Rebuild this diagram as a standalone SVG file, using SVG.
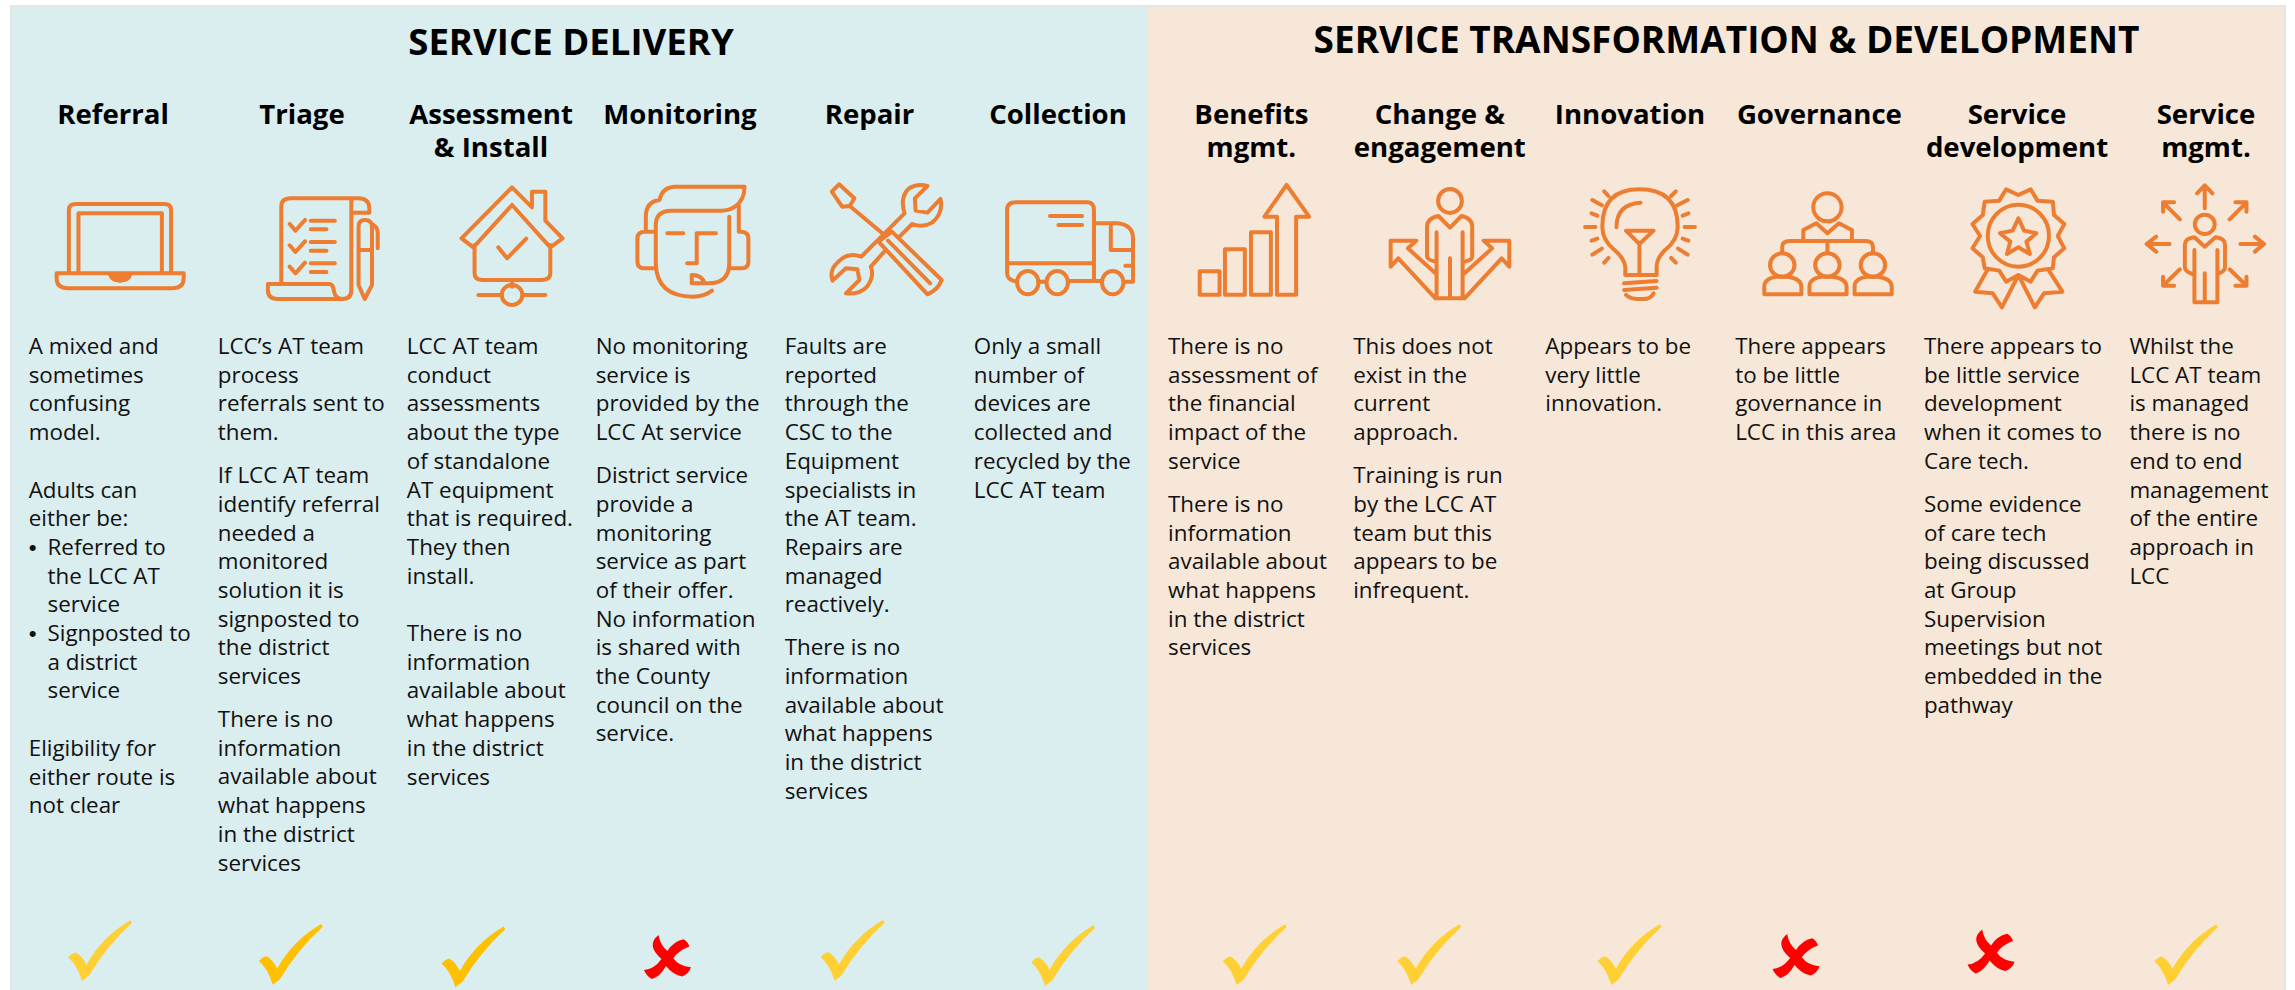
<svg xmlns="http://www.w3.org/2000/svg" xmlns:xlink="http://www.w3.org/1999/xlink" width="2295" height="990" viewBox="0 0 2295 990">
<style>
.t{font:700 36.6px "Open Sans","Liberation Sans",sans-serif;fill:#000;text-anchor:middle}
.h{font:700 27.6px "Open Sans","Liberation Sans",sans-serif;fill:#000;text-anchor:middle}
.b{font:400 22.4px "Open Sans","Liberation Sans",sans-serif;fill:#111}
.d{font-family:"Liberation Sans",sans-serif}
.i{fill:none;stroke:#ed7d31;stroke-width:4;stroke-linecap:round;stroke-linejoin:round}
.i *{vector-effect:non-scaling-stroke}
.k1{fill:#ffd033}.k2{fill:#ffc000}.x{fill:#f00}
</style>
<defs>
<path id="chk" d="M48.4,-60.7 L49.9,-58 Q24.2,-34.7 7.3,-5.7 L0,0 Q-5.1,-16.3 -13.9,-23.7 Q-11,-27.3 -6.6,-28.7 Q0,-25.3 4.4,-16.3 Q20.5,-44.7 48.4,-60.7Z"/>
<path id="crs" d="M-8.8,-23.3 Q-7.3,-13.3 0,-7.3 Q5.9,-16.7 16.1,-19 Q20.5,-16.7 22,-11.7 Q11,-7.7 5.9,0 Q11,7.7 23.5,9 Q22,15 14.7,18.3 Q5.9,16.7 -1.5,7.7 Q-7.3,18.3 -15.4,20.7 Q-20.5,18.3 -23.5,11.7 Q-13.2,11 -5.9,0.7 Q-22,-13.3 -8.8,-23.3Z"/>
</defs>
<rect x="0" y="0" width="2295" height="990" fill="#fff"/>
<g id="panels">
<rect x="10" y="5" width="2276" height="985" fill="#e7e6e6"/>
<rect x="12" y="7" width="1136" height="983" fill="#daedef"/>
<rect x="1148" y="7" width="1136" height="983" fill="#f6e7d8"/>
</g>
<text id="title-delivery" class="t" x="571" y="55">SERVICE DELIVERY</text>
<text id="title-transformation" class="t" style="font-size:37px" x="1726.5" y="53">SERVICE TRANSFORMATION &amp; DEVELOPMENT</text>

<g id="referral">
<text class="h" x="113" y="124">Referral</text>
<g class="i" transform="matrix(.3827 0 0 .3333 0 0)"><path d="M180,820V630Q180,612 198,612H430Q447,612 447,630V820M205,820V640H423V820M148,820H480V835Q480,865 450,865H178Q148,865 148,835Z"/><path fill="#ed7d31" d="M288,825H340Q335,842 314,842Q293,842 288,825Z"/></g>
<text class="b" y="354"><tspan x="28.7">A mixed and</tspan><tspan x="28.7" dy="28.7">sometimes</tspan><tspan x="28.7" dy="28.7">confusing</tspan><tspan x="28.7" dy="28.7">model.</tspan><tspan x="28.7" dy="57.4">Adults can</tspan><tspan x="28.7" dy="28.7">either be:</tspan><tspan class="d" x="28.7" dy="28.7">•</tspan><tspan x="47.5">Referred to</tspan><tspan x="47.5" dy="28.7">the LCC AT</tspan><tspan x="47.5" dy="28.7">service</tspan><tspan class="d" x="28.7" dy="28.7">•</tspan><tspan x="47.5">Signposted to</tspan><tspan x="47.5" dy="28.7">a district</tspan><tspan x="47.5" dy="28.7">service</tspan><tspan x="28.7" dy="57.4">Eligibility for</tspan><tspan x="28.7" dy="28.7">either route is</tspan><tspan x="28.7" dy="28.7">not clear</tspan></text>
<use xlink:href="#chk" href="#chk" class="k1" x="82" y="981"/>
</g>

<g id="triage">
<text class="h" x="302" y="124">Triage</text>
<g class="i" transform="matrix(.3827 0 0 .3333 0 0)"><path d="M735,852V620Q735,595 760,595H935Q965,595 965,625V638H920M918,600V870Q918,897 895,897H725Q700,897 700,870V852H860Q870,852 872,870Q875,897 895,897M757,672L772,692L797,660M812,662H875M812,688H853M757,736L772,756L797,724M812,726H875M812,752H853M757,800L772,820L797,788M812,790H875M812,816H853M937,680Q937,660 953,660Q972,660 972,680V855L953,897L937,855ZM937,750H972M972,672Q987,680 987,700V745"/></g>
<text class="b" y="354"><tspan x="217.8">LCC’s AT team</tspan><tspan x="217.8" dy="28.7">process</tspan><tspan x="217.8" dy="28.7">referrals sent to</tspan><tspan x="217.8" dy="28.7">them.</tspan><tspan x="217.8" dy="43">If LCC AT team</tspan><tspan x="217.8" dy="28.7">identify referral</tspan><tspan x="217.8" dy="28.7">needed a</tspan><tspan x="217.8" dy="28.7">monitored</tspan><tspan x="217.8" dy="28.7">solution it is</tspan><tspan x="217.8" dy="28.7">signposted to</tspan><tspan x="217.8" dy="28.7">the district</tspan><tspan x="217.8" dy="28.7">services</tspan><tspan x="217.8" dy="43">There is no</tspan><tspan x="217.8" dy="28.7">information</tspan><tspan x="217.8" dy="28.7">available about</tspan><tspan x="217.8" dy="28.7">what happens</tspan><tspan x="217.8" dy="28.7">in the district</tspan><tspan x="217.8" dy="28.7">services</tspan></text>
<use xlink:href="#chk" href="#chk" class="k2" x="272.8" y="984.7"/>
</g>

<g id="assessment">
<text class="h"><tspan x="491" y="124">Assessment</tspan><tspan x="491" y="157">&amp; Install</tspan></text>
<g class="i" transform="matrix(.3827 0 0 .3333 0 0)"><path d="M1206,715L1338,562L1390,622V575H1425V662L1470,715L1438,742L1338,615L1237,742ZM1240,735V820Q1240,840 1260,840H1416Q1438,840 1438,820V735M1302,742L1325,775L1375,716M1338,840V860M1250,885H1312M1365,885H1425"/><ellipse cx="1338" cy="885" rx="27" ry="30"/></g>
<text class="b" y="354"><tspan x="406.8">LCC AT team</tspan><tspan x="406.8" dy="28.7">conduct</tspan><tspan x="406.8" dy="28.7">assessments</tspan><tspan x="406.8" dy="28.7">about the type</tspan><tspan x="406.8" dy="28.7">of standalone</tspan><tspan x="406.8" dy="28.7">AT equipment</tspan><tspan x="406.8" dy="28.7">that is required.</tspan><tspan x="406.8" dy="28.7">They then</tspan><tspan x="406.8" dy="28.7">install.</tspan><tspan x="406.8" dy="57.4">There is no</tspan><tspan x="406.8" dy="28.7">information</tspan><tspan x="406.8" dy="28.7">available about</tspan><tspan x="406.8" dy="28.7">what happens</tspan><tspan x="406.8" dy="28.7">in the district</tspan><tspan x="406.8" dy="28.7">services</tspan></text>
<use xlink:href="#chk" href="#chk" class="k2" x="455.4" y="987.3"/>
</g>

<g id="monitoring">
<text class="h" x="680" y="124">Monitoring</text>
<g class="i" transform="matrix(.3827 0 0 .3333 580 0)"><path d="M172,695V650Q172,605 208,600Q215,560 250,560H430Q430,600 405,620Q390,632 370,632H240Q198,632 198,675V790Q200,890 295,890Q325,890 345,872M415,615V695M390,650V790Q390,850 335,850H292V825Q320,825 325,850M198,695H170Q150,695 150,715V785Q150,805 170,805H198M415,695H420Q440,695 440,715V785Q440,805 420,805H392M228,700H270M355,700H305V790H280"/></g>
<text class="b" y="354"><tspan x="595.7">No monitoring</tspan><tspan x="595.7" dy="28.7">service is</tspan><tspan x="595.7" dy="28.7">provided by the</tspan><tspan x="595.7" dy="28.7">LCC At service</tspan><tspan x="595.7" dy="43">District service</tspan><tspan x="595.7" dy="28.7">provide a</tspan><tspan x="595.7" dy="28.7">monitoring</tspan><tspan x="595.7" dy="28.7">service as part</tspan><tspan x="595.7" dy="28.7">of their offer.</tspan><tspan x="595.7" dy="28.7">No information</tspan><tspan x="595.7" dy="28.7">is shared with</tspan><tspan x="595.7" dy="28.7">the County</tspan><tspan x="595.7" dy="28.7">council on the</tspan><tspan x="595.7" dy="28.7">service.</tspan></text>
<use xlink:href="#crs" href="#crs" class="x" x="667.4" y="958.3"/>
</g>

<g id="repair">
<text class="h" x="869.5" y="124">Repair</text>
<g class="i" transform="matrix(.3827 0 0 .3333 580 0)"><path d="M658,575L677,553L717,595L705,618L685,620ZM705,618L790,700M780,725L815,695L945,840Q935,870 908,883ZM805,722L915,850M848,640Q835,590 860,565Q880,550 908,558L875,595L877,632L908,638L942,597Q950,640 920,668Q895,685 868,672L833,712M848,640L735,770Q700,755 675,785Q650,810 660,842L695,805L725,808L730,840L695,880Q730,885 750,860Q770,830 760,800L795,755"/></g>
<text class="b" y="354"><tspan x="784.7">Faults are</tspan><tspan x="784.7" dy="28.7">reported</tspan><tspan x="784.7" dy="28.7">through the</tspan><tspan x="784.7" dy="28.7">CSC to the</tspan><tspan x="784.7" dy="28.7">Equipment</tspan><tspan x="784.7" dy="28.7">specialists in</tspan><tspan x="784.7" dy="28.7">the AT team.</tspan><tspan x="784.7" dy="28.7">Repairs are</tspan><tspan x="784.7" dy="28.7">managed</tspan><tspan x="784.7" dy="28.7">reactively.</tspan><tspan x="784.7" dy="43">There is no</tspan><tspan x="784.7" dy="28.7">information</tspan><tspan x="784.7" dy="28.7">available about</tspan><tspan x="784.7" dy="28.7">what happens</tspan><tspan x="784.7" dy="28.7">in the district</tspan><tspan x="784.7" dy="28.7">services</tspan></text>
<use xlink:href="#chk" href="#chk" class="k1" x="834.6" y="980.7"/>
</g>

<g id="collection">
<text class="h" x="1058" y="124">Collection</text>
<g class="i" transform="matrix(.3827 0 0 .3333 580 0)"><path d="M1140,845Q1116,840 1116,820V630Q1116,607 1140,607H1325Q1343,607 1343,630V840M1116,790H1340M1343,670H1405Q1445,675 1445,715V845H1422M1387,680V750H1445M1425,797H1445M1228,648H1312M1250,675H1312M1198,845H1218M1276,843H1362"/><ellipse cx="1170" cy="848" rx="28" ry="35"/><ellipse cx="1247" cy="848" rx="28" ry="35"/><ellipse cx="1392" cy="848" rx="28" ry="35"/></g>
<text class="b" y="354"><tspan x="973.8">Only a small</tspan><tspan x="973.8" dy="28.7">number of</tspan><tspan x="973.8" dy="28.7">devices are</tspan><tspan x="973.8" dy="28.7">collected and</tspan><tspan x="973.8" dy="28.7">recycled by the</tspan><tspan x="973.8" dy="28.7">LCC AT team</tspan></text>
<use xlink:href="#chk" href="#chk" class="k1" x="1045.1" y="986"/>
</g>

<g id="benefits">
<text class="h"><tspan x="1251.4" y="124">Benefits</tspan><tspan x="1251.4" y="157">mgmt.</tspan></text>
<g class="i" transform="matrix(.3827 0 0 .3333 1140 0)"><rect x="156" y="814" width="52" height="70"/><rect x="222" y="748" width="52" height="136"/><rect x="290" y="697" width="52" height="187"/><path d="M358,884V650H325L383,555L442,650H408V884Z"/></g>
<text class="b" y="354"><tspan x="1168">There is no</tspan><tspan x="1168" dy="28.7">assessment of</tspan><tspan x="1168" dy="28.7">the financial</tspan><tspan x="1168" dy="28.7">impact of the</tspan><tspan x="1168" dy="28.7">service</tspan><tspan x="1168" dy="43">There is no</tspan><tspan x="1168" dy="28.7">information</tspan><tspan x="1168" dy="28.7">available about</tspan><tspan x="1168" dy="28.7">what happens</tspan><tspan x="1168" dy="28.7">in the district</tspan><tspan x="1168" dy="28.7">services</tspan></text>
<use xlink:href="#chk" href="#chk" class="k1" x="1236.7" y="985"/>
</g>

<g id="change">
<text class="h"><tspan x="1439.8" y="124">Change &amp;</tspan><tspan x="1439.8" y="157">engagement</tspan></text>
<g class="i" transform="matrix(.3827 0 0 .3333 1140 0)"><ellipse cx="810" cy="603" rx="31" ry="36"/><path d="M772,785Q752,780 750,770V680Q750,655 780,648L810,683L840,648Q868,655 868,680V770Q868,780 848,785M775,697V892M843,697V892M810,775V892M772,895H848M772,820L700,745L722,722H655V800L675,775L772,895M848,820L920,745L898,722H965V800L945,775L848,895"/></g>
<text class="b" y="354"><tspan x="1353.2">This does not</tspan><tspan x="1353.2" dy="28.7">exist in the</tspan><tspan x="1353.2" dy="28.7">current</tspan><tspan x="1353.2" dy="28.7">approach.</tspan><tspan x="1353.2" dy="43">Training is run</tspan><tspan x="1353.2" dy="28.7">by the LCC AT</tspan><tspan x="1353.2" dy="28.7">team but this</tspan><tspan x="1353.2" dy="28.7">appears to be</tspan><tspan x="1353.2" dy="28.7">infrequent.</tspan></text>
<use xlink:href="#chk" href="#chk" class="k1" x="1411.2" y="985"/>
</g>

<g id="innovation">
<text class="h" x="1630" y="124">Innovation</text>
<g class="i" transform="matrix(.3827 0 0 .3333 1140 0)"><path d="M1268,825V800Q1265,775 1240,750Q1208,720 1208,680Q1208,568 1305,568Q1405,568 1405,680Q1405,720 1372,750Q1350,775 1350,800V825H1268M1265,850L1350,843M1265,870L1350,863M1270,885Q1280,897 1300,897H1315Q1335,897 1342,880M1245,682Q1245,612 1308,608M1270,692H1342L1305,732ZM1305,732V825M1163,681H1190M1423,681H1450M1182,600L1207,616M1404,616L1431,600M1213,574L1224,588M1388,588L1400,574M1180,640L1195,647M1418,647L1433,640M1180,722L1195,716M1418,716L1433,722M1182,764L1207,746M1406,746L1431,764M1213,788L1224,774M1388,774L1400,788"/></g>
<text class="b" y="354"><tspan x="1545.3">Appears to be</tspan><tspan x="1545.3" dy="28.7">very little</tspan><tspan x="1545.3" dy="28.7">innovation.</tspan></text>
<use xlink:href="#chk" href="#chk" class="k1" x="1611.4" y="985"/>
</g>

<g id="governance">
<text class="h" x="1819.4" y="124">Governance</text>
<g class="i" transform="matrix(.3827 0 0 .3333 1695 0)"><ellipse cx="346" cy="622" rx="37" ry="42"/><path d="M283,720V690L317,670L346,700L376,670L410,690V720M228,760V740Q228,723 248,723H445Q465,723 465,740V760M346,723V760M181,883V860Q181,835 215,830H240Q278,835 278,860V883ZM299,883V860Q299,835 333,830H358Q396,835 396,860V883ZM417,883V860Q417,835 451,830H476Q514,835 514,860V883Z"/><ellipse cx="228" cy="795" rx="32" ry="35"/><ellipse cx="346" cy="795" rx="32" ry="35"/><ellipse cx="465" cy="795" rx="32" ry="35"/></g>
<text class="b" y="354"><tspan x="1735.2">There appears</tspan><tspan x="1735.2" dy="28.7">to be little</tspan><tspan x="1735.2" dy="28.7">governance in</tspan><tspan x="1735.2" dy="28.7">LCC in this area</tspan></text>
<use xlink:href="#crs" href="#crs" class="x" x="1796" y="957.3"/>
</g>

<g id="development">
<text class="h"><tspan x="2017" y="124">Service</tspan><tspan x="2017" y="157">development</tspan></text>
<g class="i" transform="matrix(.3827 0 0 .3333 1695 0)"><path d="M813,568L845,585L877,568L895,602L935,605L938,645L965,672L948,708L965,745L938,772L935,805L895,812L877,845L845,825L813,845L795,812L757,805L752,772L725,745L745,708L725,672L752,645L757,605L795,602ZM765,808L732,875L778,880L802,922L845,825L888,922L912,880L960,875L925,812M845,655L860,692L892,700L866,725L875,762L845,742L815,762L824,725L797,700L830,692Z"/><ellipse cx="845" cy="707" rx="80" ry="93"/></g>
<text class="b" y="354"><tspan x="1923.9">There appears to</tspan><tspan x="1923.9" dy="28.7">be little service</tspan><tspan x="1923.9" dy="28.7">development</tspan><tspan x="1923.9" dy="28.7">when it comes to</tspan><tspan x="1923.9" dy="28.7">Care tech.</tspan><tspan x="1923.9" dy="43">Some evidence</tspan><tspan x="1923.9" dy="28.7">of care tech</tspan><tspan x="1923.9" dy="28.7">being discussed</tspan><tspan x="1923.9" dy="28.7">at Group</tspan><tspan x="1923.9" dy="28.7">Supervision</tspan><tspan x="1923.9" dy="28.7">meetings but not</tspan><tspan x="1923.9" dy="28.7">embedded in the</tspan><tspan x="1923.9" dy="28.7">pathway</tspan></text>
<use xlink:href="#crs" href="#crs" class="x" x="1991" y="952.7"/>
</g>

<g id="management">
<text class="h"><tspan x="2206" y="124">Service</tspan><tspan x="2206" y="157">mgmt.</tspan></text>
<g class="i" transform="matrix(.3827 0 0 .3333 1695 0)"><ellipse cx="1332" cy="673" rx="26" ry="29"/><path d="M1300,822Q1280,815 1280,800V735Q1280,715 1305,712L1332,740L1360,712Q1385,715 1385,735V800Q1385,815 1365,822M1305,750V907H1365V750M1332,820V905M1332,625V558M1312,580L1332,556L1352,580M1240,732H1180M1205,710L1180,732L1205,755M1425,732H1487M1463,710L1487,732L1463,755M1267,658L1223,607M1223,635V607H1252M1397,658L1441,607M1412,607H1441V635M1267,808L1223,857M1223,830V857H1252M1397,808L1441,857M1441,830V857H1412"/></g>
<text class="b" y="354"><tspan x="2129.4">Whilst the</tspan><tspan x="2129.4" dy="28.7">LCC AT team</tspan><tspan x="2129.4" dy="28.7">is managed</tspan><tspan x="2129.4" dy="28.7">there is no</tspan><tspan x="2129.4" dy="28.7">end to end</tspan><tspan x="2129.4" dy="28.7">management</tspan><tspan x="2129.4" dy="28.7">of the entire</tspan><tspan x="2129.4" dy="28.7">approach in</tspan><tspan x="2129.4" dy="28.7">LCC</tspan></text>
<use xlink:href="#chk" href="#chk" class="k1" x="2168.1" y="985"/>
</g>
</svg>
